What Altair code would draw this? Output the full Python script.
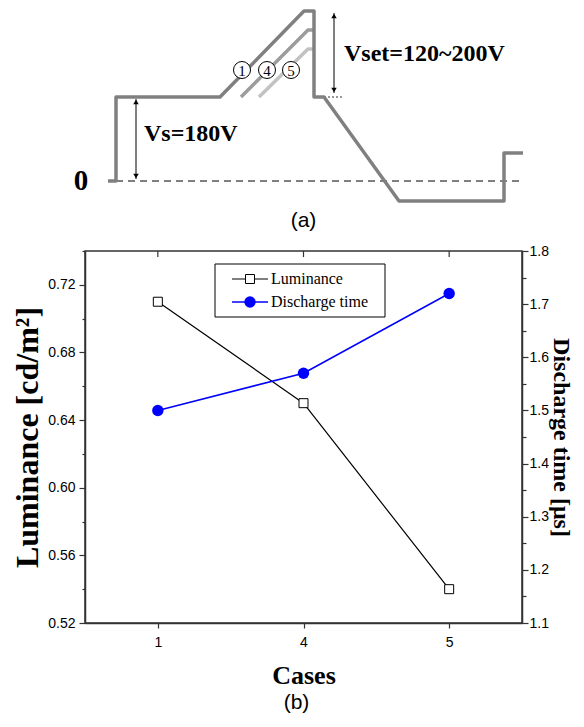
import altair as alt
import pandas as pd

# ---------------- (b) chart data ----------------
cases = ["1", "4", "5"]
luminance = [0.71, 0.65, 0.54]
discharge_time = [1.50, 1.57, 1.72]
lum_tick_values = [0.52, 0.54, 0.56, 0.58, 0.60, 0.62, 0.64, 0.66, 0.68, 0.70, 0.72, 0.74]
dis_tick_values = [1.10, 1.15, 1.20, 1.25, 1.30, 1.35, 1.40, 1.45, 1.50,
                   1.55, 1.60, 1.65, 1.70, 1.75, 1.80]
legend_labels = ["Luminance", "Discharge time"]

# ---------------- (a) waveform diagram data (time units, level units) ----------------
wave_t = [23, 31, 31, 135, 219, 229, 229, 239, 314, 419, 419, 438]
wave_v = [0, 0, 84, 84, 170, 170, 84, 84, -20, -20, 28, 28]
case4_t = [156, 223, 229]
case4_v = [84, 151, 151]
case5_t = [174, 223, 229]
case5_v = [84, 132, 132]
zero_line = {"t": [31], "t2": [438], "v": [0]}
ref_t = [41, 239]
ref_t2 = [59, 259]
ref_v = [84, 84]
arrow_t = [51, 249]
arrow_lo = [2, 88]
arrow_hi = [82, 168]
case_labels = ["1", "4", "5"]
case_label_t = [157, 182, 206]
case_label_v = [111, 111, 111]
big_labels = ["Vs=180V", "Vset=120~200V"]
big_label_t = [59, 259]
big_label_v = [47, 127]

SERIF = "Liberation Serif"
SANS = "Liberation Sans"
AX = "#333333"

# ================= bottom chart (b) =================
df = pd.DataFrame({"case": cases, "lum": luminance, "dis": discharge_time})

x_enc = alt.X(
    "case:N", sort=cases,
    scale=alt.Scale(type="point", padding=0.5),
    axis=alt.Axis(title="Cases", labelAngle=0, labelFont=SANS, labelFontSize=14,
                  labelColor="black", labelPadding=7, tickSize=5, tickColor=AX,
                  tickWidth=1.2, domainColor=AX, domainWidth=1.5, titleFont=SERIF,
                  titleFontSize=26, titleFontWeight="bold", titleColor="black",
                  titlePadding=13, grid=False),
)

lum_y = alt.Y(
    "lum:Q",
    scale=alt.Scale(domain=[0.52, 0.74], nice=False, zero=False),
    axis=alt.Axis(
        title="Luminance [cd/m²]", values=lum_tick_values,
        labelExpr="round(datum.value*100) % 4 == 0 ? format(datum.value, '.2f') : ''",
        tickSize={"condition": {"test": "round(datum.value*100) % 4 != 0", "value": 3}, "value": 6},
        labelFont=SANS, labelFontSize=14, labelColor="black", labelPadding=4,
        labelOverlap=False, labelFlush=False,
        tickColor=AX, tickWidth=1.2, domainColor=AX, domainWidth=1.5,
        titleFont=SERIF, titleFontSize=32, titleFontWeight="bold", titleColor="black",
        titlePadding=3, grid=False),
)

dis_y = alt.Y(
    "dis:Q",
    scale=alt.Scale(domain=[1.1, 1.8], nice=False, zero=False),
    axis=alt.Axis(
        orient="right",
        title="Discharge time [μs]", values=dis_tick_values,
        labelExpr="round(datum.value*100) % 10 == 0 ? format(datum.value, '.1f') : ''",
        tickSize={"condition": {"test": "round(datum.value*100) % 10 != 0", "value": 4}, "value": 6},
        labelFont=SANS, labelFontSize=14, labelColor="black", labelPadding=1,
        labelOverlap=False, labelFlush=False,
        tickColor=AX, tickWidth=1.2, domainColor=AX, domainWidth=1.5,
        titleFont=SERIF, titleFontSize=24, titleFontWeight="bold", titleColor="black",
        titlePadding=0, grid=False),
)

base = alt.Chart(df)
lum_line = base.mark_line(color="black", strokeWidth=1.2, strokeJoin="round").encode(x=x_enc, y=lum_y)
lum_pts = base.mark_square(size=81, fill="white", stroke="black", strokeWidth=1,
                           opacity=1).encode(x=x_enc, y=lum_y)
top_ticks = base.mark_rule(color=AX, strokeWidth=1.2).encode(
    x=x_enc, y=alt.value(0), y2=alt.value(6))

leg1 = pd.DataFrame({"label": [legend_labels[0]]})
leg2 = pd.DataFrame({"label": [legend_labels[1]]})
leg_box = alt.Chart(leg1).mark_rect(fill="white", stroke="black", strokeWidth=1).encode(
    x=alt.value(130), x2=alt.value(300), y=alt.value(13), y2=alt.value(66))
seg1 = alt.Chart(leg1).mark_rule(color="black", strokeWidth=1.2).encode(
    x=alt.value(147), x2=alt.value(183), y=alt.value(28))
sym1 = alt.Chart(leg1).mark_square(size=81, fill="white", stroke="black", strokeWidth=1,
                                   opacity=1).encode(x=alt.value(165), y=alt.value(28))
txt1 = alt.Chart(leg1).mark_text(align="left", baseline="middle", font=SERIF,
                                 fontSize=16, color="black").encode(
    x=alt.value(186), y=alt.value(28), text="label:N")
seg2 = alt.Chart(leg2).mark_rule(color="#0000ff", strokeWidth=1.5).encode(
    x=alt.value(147), x2=alt.value(183), y=alt.value(51))
sym2 = alt.Chart(leg2).mark_circle(size=130, color="#0000ff", opacity=1).encode(
    x=alt.value(165), y=alt.value(51))
txt2 = alt.Chart(leg2).mark_text(align="left", baseline="middle", font=SERIF,
                                 fontSize=16, color="black").encode(
    x=alt.value(186), y=alt.value(51), text="label:N")

lum_group = alt.layer(lum_line, lum_pts, top_ticks, leg_box, seg1, sym1, txt1, seg2, sym2, txt2)

dis_line = base.mark_line(color="#0000ff", strokeWidth=1.5, strokeJoin="round").encode(x=x_enc, y=dis_y)
dis_pts = base.mark_circle(size=130, color="#0000ff", opacity=1).encode(x=x_enc, y=dis_y)
dis_group = alt.layer(dis_line, dis_pts)

bottom = alt.layer(lum_group, dis_group).resolve_scale(y="independent").properties(
    width=437, height=372,
    title=alt.TitleParams(text="(b)", orient="bottom", font=SANS, fontSize=21,
                          fontWeight="normal", color="black", offset=4, anchor="middle", dx=-7),
)

# ================= top diagram (a) =================
def tx(f):
    return alt.X(f, type="quantitative", scale=alt.Scale(domain=[0, 437], nice=False, zero=False), axis=None)


def ty(f):
    return alt.Y(f, type="quantitative", scale=alt.Scale(domain=[-25, 172], nice=False, zero=False), axis=None)


def path_df(ts, vs):
    return pd.DataFrame({"t": ts, "v": vs, "i": list(range(len(ts)))})


line5 = alt.Chart(path_df(case5_t, case5_v)).mark_line(
    color="#c2c2c2", strokeWidth=3.5, strokeJoin="round").encode(x=tx("t"), y=ty("v"), order="i:Q")
line4 = alt.Chart(path_df(case4_t, case4_v)).mark_line(
    color="#9c9c9c", strokeWidth=3.5, strokeJoin="round").encode(x=tx("t"), y=ty("v"), order="i:Q")
line1 = alt.Chart(path_df(wave_t, wave_v)).mark_line(
    color="#808080", strokeWidth=3.5, strokeJoin="round").encode(x=tx("t"), y=ty("v"), order="i:Q")

zero_rule = alt.Chart(pd.DataFrame(zero_line)).mark_rule(
    color="#555555", strokeWidth=1.5, strokeDash=[7, 5]).encode(x=tx("t"), x2="t2", y=ty("v"))

ref_rules = alt.Chart(pd.DataFrame({"t": ref_t, "t2": ref_t2, "v": ref_v})).mark_rule(
    color="#333333", strokeWidth=1.2, strokeDash=[2, 2]).encode(x=tx("t"), x2="t2", y=ty("v"))

arrow_df = pd.DataFrame({"t": arrow_t, "lo": arrow_lo, "hi": arrow_hi})
arrow_shaft = alt.Chart(arrow_df).mark_rule(color="black", strokeWidth=1).encode(
    x=tx("t"), y=ty("lo"), y2="hi")
arrow_up = alt.Chart(arrow_df).transform_calculate(tip="datum.hi - 3").mark_point(
    shape="triangle-up", filled=True, color="black", size=30, opacity=1).encode(x=tx("t"), y=ty("tip"))
arrow_dn = alt.Chart(arrow_df).transform_calculate(tip="datum.lo + 3").mark_point(
    shape="triangle-down", filled=True, color="black", size=30, opacity=1).encode(x=tx("t"), y=ty("tip"))

big_text = alt.Chart(pd.DataFrame({"label": big_labels, "t": big_label_t, "v": big_label_v})).mark_text(
    align="left", baseline="middle", font=SERIF, fontSize=24, fontWeight="bold", color="black"
).encode(x=tx("t"), y=ty("v"), text="label:N")

zero_text = alt.Chart(pd.DataFrame({"label": ["0"], "t": [-4], "v": [0]})).mark_text(
    align="center", baseline="middle", font=SERIF, fontSize=29, fontWeight="bold", color="black"
).encode(x=tx("t"), y=ty("v"), text="label:N")

circ_df = pd.DataFrame({"label": case_labels, "t": case_label_t, "v": case_label_v})
circles = alt.Chart(circ_df).mark_point(
    shape="circle", filled=True, fill="white", stroke="black", strokeWidth=1, size=289, opacity=1
).encode(x=tx("t"), y=ty("v"))
circ_text = alt.Chart(circ_df).mark_text(
    align="center", baseline="middle", font=SERIF, fontSize=15, color="black", dy=1
).encode(x=tx("t"), y=ty("v"), text="label:N")

top = alt.layer(
    zero_rule, ref_rules, line5, line4, line1, arrow_shaft, arrow_up, arrow_dn,
    big_text, zero_text, circles, circ_text
).properties(
    width=437, height=197,
    view=alt.ViewBackground(stroke="transparent"),
    title=alt.TitleParams(text="(a)", orient="bottom", font=SANS, fontSize=21,
                          fontWeight="normal", color="black", offset=4, anchor="middle"),
)

chart = alt.vconcat(top, bottom, spacing=11).properties(
    padding={"left": 3, "top": 0, "right": 0, "bottom": 0}, background="white"
).configure_view(stroke=AX, strokeWidth=1.5)

chart.save("out.html", embed_options={"renderer": "svg", "actions": False})
